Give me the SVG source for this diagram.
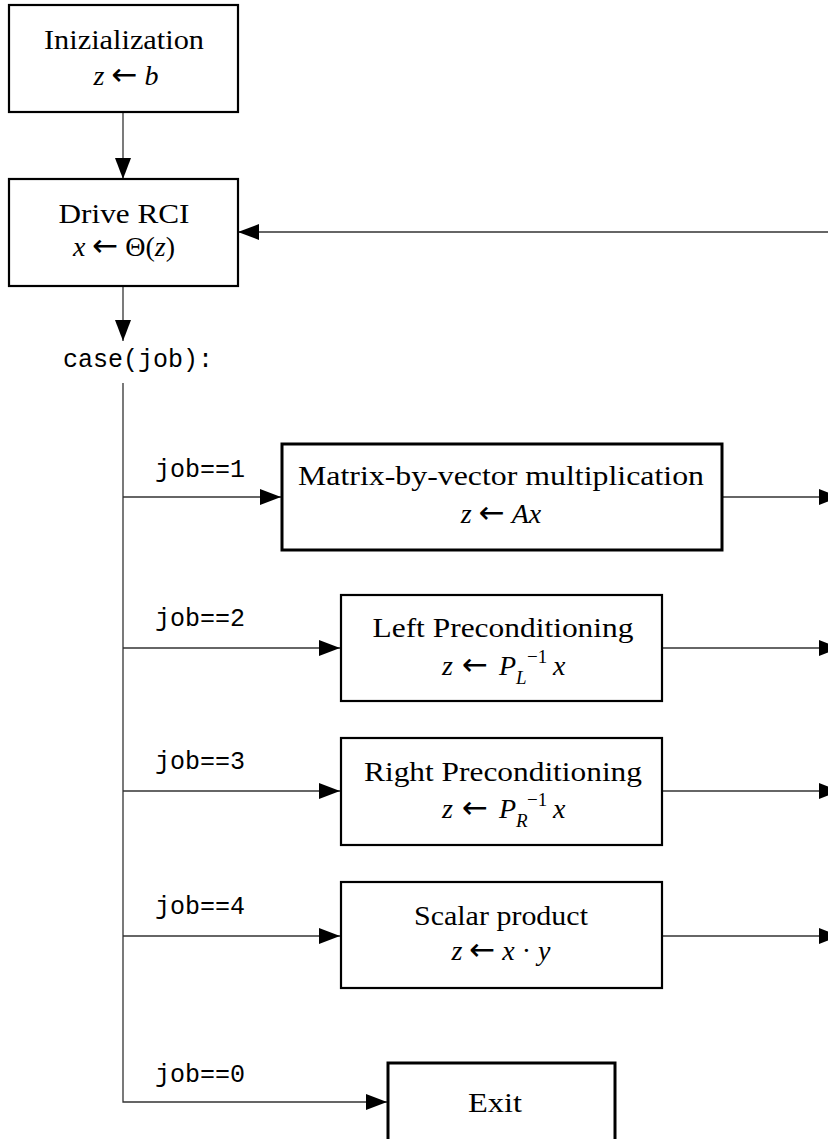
<svg xmlns="http://www.w3.org/2000/svg" width="828" height="1139" viewBox="0 0 828 1139">
<style>
.box{fill:#fff;stroke:#000;stroke-width:2.2}
.thick{stroke-width:3}
.t{font-family:"Liberation Serif",serif;font-size:28px;fill:#000;text-anchor:middle}
.m{font-family:"Liberation Serif",serif;font-size:28px;fill:#000}
.c{text-anchor:middle}
.i{font-style:italic}
.ar{font-family:"DejaVu Sans",sans-serif;font-size:31px}
.sm{font-size:19px}
.mono{font-family:"Liberation Mono",monospace;font-size:25px;fill:#000}
.ln{fill:none;stroke:#333;stroke-width:1.3}
</style>
<defs>
<marker id="ah" markerWidth="21" markerHeight="16" refX="21" refY="8" orient="auto" markerUnits="userSpaceOnUse">
<path d="M0,0 L21,8 L0,16 Z" fill="#000"/>
</marker>
</defs>
<g id="connectors">
<line class="ln" x1="123" y1="112" x2="123" y2="179" marker-end="url(#ah)"/>
<line class="ln" x1="828" y1="232" x2="238" y2="232" marker-end="url(#ah)"/>
<line class="ln" x1="123" y1="286" x2="123" y2="341" marker-end="url(#ah)"/>
<polyline class="ln" points="123,383 123,1102 387,1102" marker-end="url(#ah)"/>
<line class="ln" x1="123" y1="497" x2="281" y2="497" marker-end="url(#ah)"/>
<line class="ln" x1="123" y1="648" x2="340" y2="648" marker-end="url(#ah)"/>
<line class="ln" x1="123" y1="791" x2="340" y2="791" marker-end="url(#ah)"/>
<line class="ln" x1="123" y1="936" x2="340" y2="936" marker-end="url(#ah)"/>
<line class="ln" x1="722" y1="497" x2="840" y2="497" marker-end="url(#ah)"/>
<line class="ln" x1="662" y1="648" x2="840" y2="648" marker-end="url(#ah)"/>
<line class="ln" x1="662" y1="791" x2="840" y2="791" marker-end="url(#ah)"/>
<line class="ln" x1="662" y1="936" x2="840" y2="936" marker-end="url(#ah)"/>
<text class="mono" x="63" y="367" textLength="150">case(job):</text>
<text class="mono" x="155" y="477">job==1</text>
<text class="mono" x="155" y="626">job==2</text>
<text class="mono" x="155" y="769">job==3</text>
<text class="mono" x="155" y="914">job==4</text>
<text class="mono" x="155" y="1082">job==0</text>
</g>
<g id="init">
<rect class="box" x="9" y="5" width="229" height="107"/>
<text class="t" x="124" y="49" textLength="160" lengthAdjust="spacingAndGlyphs">Inizialization</text>
<text class="m c" x="126" y="85"><tspan class="i">z</tspan> <tspan class="ar">←</tspan> <tspan class="i">b</tspan></text>
</g>
<g id="drive">
<rect class="box" x="9" y="179" width="229" height="107"/>
<text class="t" x="124" y="223" textLength="131" lengthAdjust="spacingAndGlyphs">Drive RCI</text>
<text class="m c" x="124" y="256"><tspan class="i">x</tspan> <tspan class="ar">←</tspan> Θ(<tspan class="i">z</tspan>)</text>
</g>
<g id="matvec">
<rect class="box thick" x="282" y="444" width="440" height="106"/>
<text class="t" x="501" y="485" textLength="406" lengthAdjust="spacingAndGlyphs">Matrix-by-vector multiplication</text>
<text class="m c" x="501" y="523"><tspan class="i">z</tspan> <tspan class="ar">←</tspan> <tspan class="i">Ax</tspan></text>
</g>
<g id="leftprec">
<rect class="box" x="341" y="595" width="321" height="106"/>
<text class="t" x="503" y="637" textLength="261" lengthAdjust="spacingAndGlyphs">Left Preconditioning</text>
<text class="m" y="675"><tspan class="i" x="442">z</tspan><tspan class="ar" x="462">←</tspan><tspan class="i" x="499">P</tspan><tspan class="sm" x="527" y="663">−1</tspan><tspan class="i sm" x="516" y="684">L</tspan><tspan class="i" x="553" y="675">x</tspan></text>
</g>
<g id="rightprec">
<rect class="box" x="341" y="738" width="321" height="107"/>
<text class="t" x="503" y="781" textLength="278" lengthAdjust="spacingAndGlyphs">Right Preconditioning</text>
<text class="m" y="818"><tspan class="i" x="442">z</tspan><tspan class="ar" x="462">←</tspan><tspan class="i" x="499">P</tspan><tspan class="sm" x="527" y="806">−1</tspan><tspan class="i sm" x="516" y="827">R</tspan><tspan class="i" x="553" y="818">x</tspan></text>
</g>
<g id="scalar">
<rect class="box" x="341" y="882" width="321" height="106"/>
<text class="t" x="501" y="925" textLength="174" lengthAdjust="spacingAndGlyphs">Scalar product</text>
<text class="m c" x="501" y="960"><tspan class="i">z</tspan> <tspan class="ar">←</tspan> <tspan class="i">x</tspan> · <tspan class="i">y</tspan></text>
</g>
<g id="exit">
<rect class="box thick" x="388" y="1063" width="227" height="90"/>
<text class="t" x="495" y="1112" textLength="54" lengthAdjust="spacingAndGlyphs">Exit</text>
</g>
</svg>
